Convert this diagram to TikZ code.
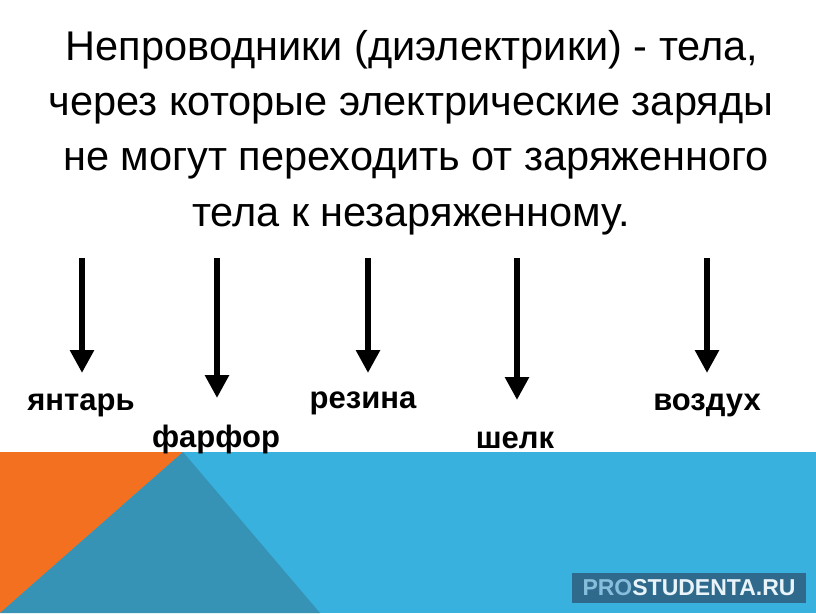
\documentclass[tikz,border=0pt]{standalone}
\usepackage{fontspec}
\setmainfont{Liberation Sans}
\usetikzlibrary{arrows.meta}

\definecolor{bandblue}{HTML}{38B1DE}
\definecolor{banddark}{HTML}{3693B5}
\definecolor{bandorange}{HTML}{F37021}
\definecolor{markbox}{HTML}{2F6A8C}
\definecolor{markpro}{HTML}{86BEDC}
\definecolor{markrest}{HTML}{E8F4FA}

\begin{document}
\begin{tikzpicture}[x=1pt,y=-1pt,
  titleline/.style={anchor=base,inner sep=0pt,font=\fontsize{41.5}{48}\selectfont},
  material/.style={anchor=base,inner sep=0pt,font=\bfseries\fontsize{31}{36}\selectfont},
  downarrow/.style={line width=6pt,-{Triangle[width=23pt,length=23pt]}}]
\useasboundingbox (0,0) rectangle (816,613);
% bottom band
\fill[bandblue] (0,452) rectangle (816,613);
\fill[bandorange] (0,452) -- (183,452) -- (0,613) -- cycle;
\fill[banddark] (183,452) -- (320,613) -- (0,613) -- cycle;
% title
\node[titleline] (line1) at (412,60) {Непроводники (диэлектрики) - тела,};
\node[titleline] (line2) at (411,115) {через которые электрические заряды};
\node[titleline] (line3) at (416,170) {не могут переходить от заряженного};
\node[titleline] (line4) at (411,226) {тела к незаряженному.};
% arrows
\coordinate (top1) at (82,258);  \coordinate (tip1) at (82,373);
\coordinate (top2) at (217,258); \coordinate (tip2) at (217,398);
\coordinate (top3) at (368,258); \coordinate (tip3) at (368,373);
\coordinate (top4) at (517,258); \coordinate (tip4) at (517,400);
\coordinate (top5) at (707,258); \coordinate (tip5) at (707,373);
\draw[downarrow] (top1) -- (tip1);
\draw[downarrow] (top2) -- (tip2);
\draw[downarrow] (top3) -- (tip3);
\draw[downarrow] (top4) -- (tip4);
\draw[downarrow] (top5) -- (tip5);
% labels
\node[material] (yantar) at (81,410) {янтарь};
\node[material] (farfor) at (216,447) {фарфор};
\node[material] (rezina) at (363,408) {резина};
\node[material] (shelk) at (515,448) {шелк};
\node[material] (vozduh) at (707,410) {воздух};
% watermark
\node[fill=markbox,inner sep=0pt,minimum width=234pt,minimum height=30pt,
  font=\bfseries\fontsize{23}{28}\selectfont] (mark) at (689,588)
  {\textcolor{markpro}{PRO}\textcolor{markrest}{STUDENTA.RU}};
\end{tikzpicture}
\end{document}
